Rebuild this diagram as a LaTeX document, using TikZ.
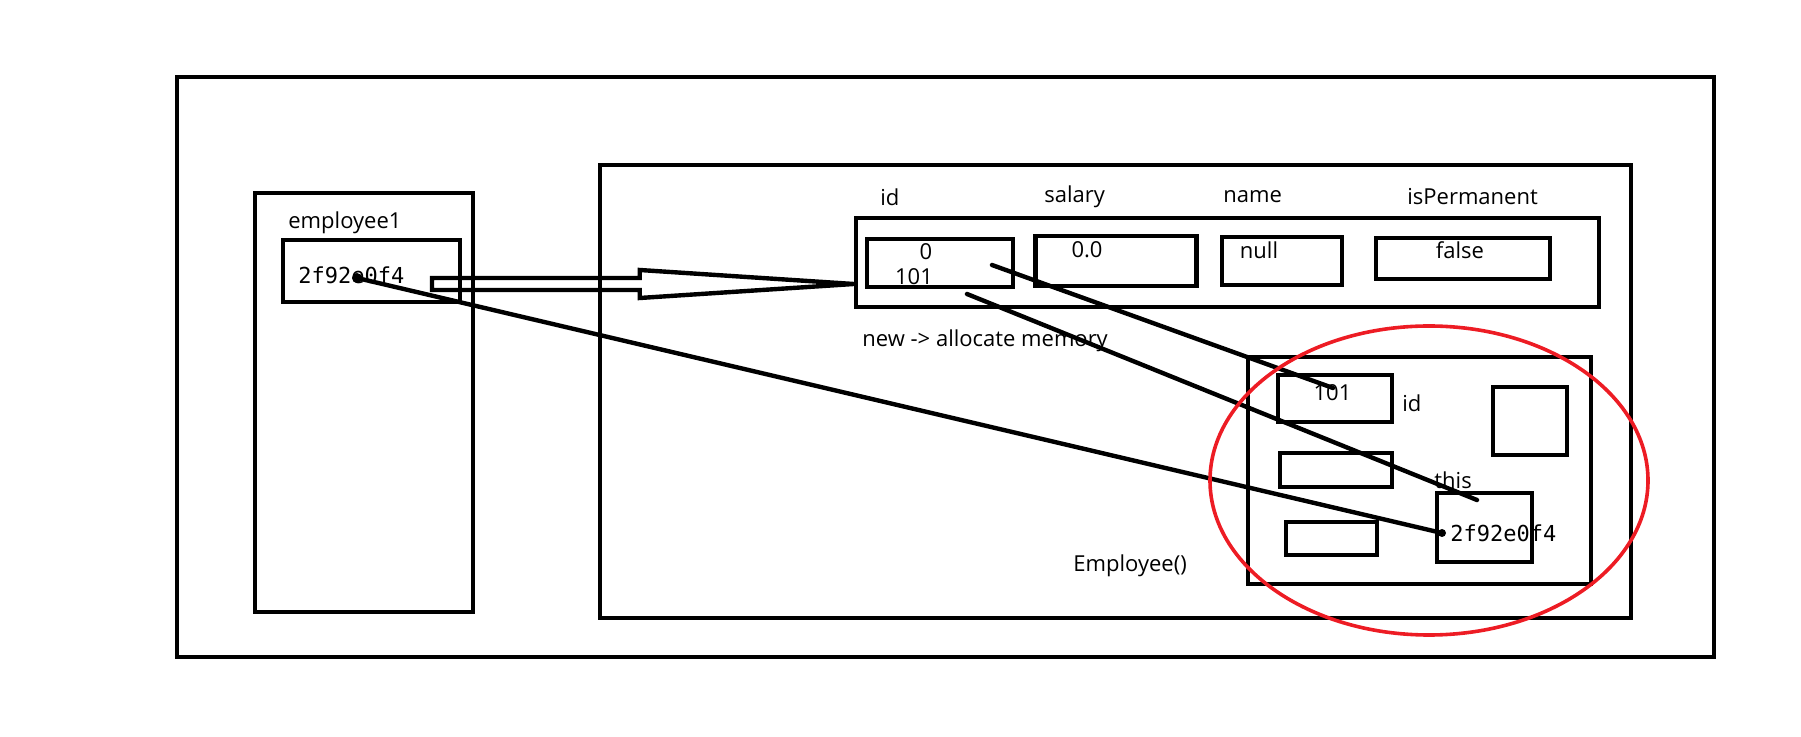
\documentclass[tikz,border=0pt]{standalone}
\usepackage{fontspec}
\setmainfont{Open Sans}
\newfontfamily\codefont{DejaVu Sans Mono}
\usetikzlibrary{calc}
\definecolor{penred}{RGB}{237,28,36}

\tikzset{
    box/.style={draw, rectangle, line width=2.3pt, inner sep=0pt},
    lbl/.style={anchor=west, inner sep=0pt, font=\fontsize{11}{13}\selectfont},
    val/.style={inner sep=0pt, font=\fontsize{11}{13}\selectfont},
    addr/.style={anchor=west, inner sep=0pt, font=\codefont\fontsize{11}{13}\selectfont},
    wire/.style={line width=2.2pt, line cap=round}
}

\begin{document}
\begin{tikzpicture}[x=0.5pt,y=-0.5pt]
    \useasboundingbox (0,0) rectangle (1801,737);

    % frames
    \node[box, minimum width=768.5pt, minimum height=290pt] (memory) at (945.5,367) {};
    \node[box, minimum width=109pt, minimum height=209.5pt] (stack) at (364,402.5) {};
    \node[box, minimum width=515.5pt, minimum height=226.5pt] (heap) at (1115.5,391.5) {};

    % stack
    \node[lbl] (varname) at (288,223) {employee1};
    \node[box, minimum width=88.5pt, minimum height=31pt] (ref) at (371.5,271) {};
    \node[addr] (refval) at (298,275) {2f92e0f4};

    % object fields
    \node[box, minimum width=371.5pt, minimum height=44.5pt] (fields) at (1227.5,262.5) {};
    \node[lbl] (idlbl) at (880,197) {id};
    \node[lbl] (salarylbl) at (1044,197) {salary};
    \node[lbl] (namelbl) at (1223,197) {name};
    \node[lbl] (permlbl) at (1407,197) {isPermanent};

    \node[box, minimum width=73pt, minimum height=24pt] (idbox) at (940,263) {};
    \node[box, minimum width=80.5pt, minimum height=25pt] (salarybox) at (1116,261) {};
    \node[box, minimum width=60pt, minimum height=24pt] (namebox) at (1282,261) {};
    \node[box, minimum width=87pt, minimum height=20.5pt] (permbox) at (1463,258.5) {};

    \node[val] (idold) at (926,252) {0};
    \node[val] (idnew) at (914,277) {101};
    \node[val] (salaryval) at (1087,250) {0.0};
    \node[val] (nameval) at (1259,250) {null};
    \node[val] (permval) at (1460,250) {false};

    \node[lbl] (newlbl) at (862,341) {new -> allocate memory};
    \node[lbl] (ctorlbl) at (1073,566) {Employee()};

    % constructor frame
    \node[box, minimum width=171.5pt, minimum height=113.5pt] (ctor) at (1419.5,470.5) {};
    \node[box, minimum width=57pt, minimum height=23.5pt] (argid) at (1335,398.5) {};
    \node[val] (argidval) at (1332.5,393) {101};
    \node[lbl] (argidlbl) at (1402,403) {id};
    \node[box, minimum width=37pt, minimum height=34pt] (square) at (1530,421) {};
    \node[box, minimum width=56pt, minimum height=17pt] (slotb) at (1336,470) {};
    \node[box, minimum width=45.5pt, minimum height=16.5pt] (slotc) at (1331.5,538.5) {};
    \node[box, minimum width=47.5pt, minimum height=34.5pt] (thisbox) at (1484.5,527.5) {};
    \node[lbl] (thislbl) at (1434,480) {this};
    \node[addr] (thisval) at (1450,533) {2f92e0f4};

    % hollow arrow
    \coordinate (tail) at (432,284);
    \coordinate (tip) at (fields.west |- tail);
    \draw[line width=2.2pt, line join=miter]
        ($(tail)+(0,-6)$) -- ($(tip)+(-214,-6)$) -- ($(tip)+(-214,-14)$) -- (tip)
        -- ($(tip)+(-214,14)$) -- ($(tip)+(-214,6)$) -- ($(tail)+(0,6)$) -- cycle;

    % wires
    \coordinate (refdot) at (357,278);
    \coordinate (thisdot) at (1442,533);
    \coordinate (iddot) at (992,265);
    \coordinate (argdot) at (1333,388);
    \coordinate (iddot2) at (967,294);
    \coordinate (thistop) at (1477,500);

    \draw[wire] (refdot) -- (thisdot);
    \draw[wire] (iddot) -- (argdot);
    \draw[wire] (iddot2) -- (thistop);
    \fill (refdot) circle[radius=2.5pt];
    \fill (thisdot) circle[radius=2pt];

    \draw[penred, line width=1.8pt] (1429,480.5) ellipse [x radius=109.5pt, y radius=77.25pt];
\end{tikzpicture}
\end{document}
